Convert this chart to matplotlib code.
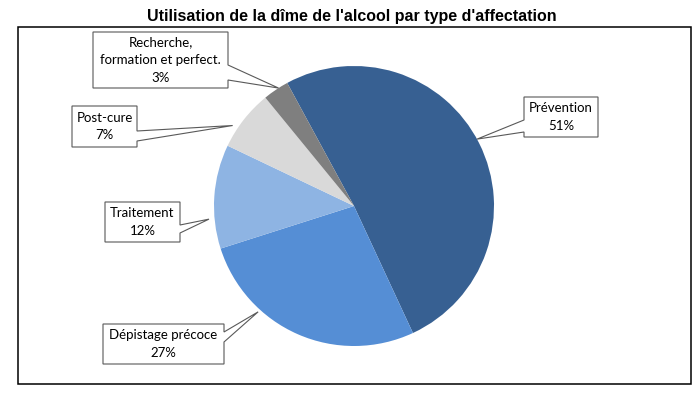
import matplotlib
matplotlib.use("Agg")
import matplotlib.pyplot as plt
from matplotlib.patches import Polygon, Rectangle
import numpy as np

# Data
categories = ["Prévention", "Dépistage précoce", "Traitement", "Post-cure",
              "Recherche,\nformation et perfect."]
shares = [51, 27, 12, 7, 3]
colors = ["#376092", "#558ED5", "#8EB4E3", "#D9D9D9", "#7F7F7F"]
title = "Utilisation de la dîme de l'alcool par type d'affectation"

W, H = 700, 395
START = 118.5

fig = plt.figure(figsize=(W / 100, H / 100), dpi=100)
ax = fig.add_axes([0, 0, 1, 1])


def up(y):
    """Convert a top-down pixel row into the axes' upward y coordinate."""
    return H - y


cx, cy, R = 354, up(206), 140
ax.pie(shares, colors=colors, startangle=START, counterclock=False,
       center=(cx, cy), radius=R, wedgeprops=dict(linewidth=0))
ax.set_xlim(0, W)
ax.set_ylim(0, H)
ax.axis("off")

# Chart frame
ax.add_patch(Rectangle((18, up(384)), 691 - 18, 384 - 27, fill=False,
                       edgecolor="black", linewidth=1.1, zorder=1))

ax.text(352, up(16), title, ha="center", va="center", fontsize=11.5,
        fontweight="bold", family="Liberation Sans")

# Callout layout: box (left, top, right, bottom), side of the pointer,
# pointer base rows, position of the tip inside the slice, tip radius factor
callouts = [
    ((524, 97, 598, 137), "left", (120, 132), 0.49, 1.0),
    ((103, 324, 224, 364), "right", (332, 342), 0.69, 1.02),
    ((105, 202, 180, 242), "right", (225, 233), 0.29, 1.04),
    ((72, 106, 137, 147), "right", (131, 141), 0.32, 1.04),
    ((93, 32, 228, 88), "right", (65, 80), 0.62, 1.0),
]

total = float(sum(shares))
cum = np.concatenate([[0], np.cumsum(shares)[:-1]])
for i, (box, side, (y1, y2), f, rf) in enumerate(callouts):
    ang = np.deg2rad(START - 360 * (cum[i] + f * shares[i]) / total)
    tip = (cx + rf * R * np.cos(ang), cy + rf * R * np.sin(ang))
    l, t, r, b = box
    if side == "right":
        pts = [(l, up(t)), (r, up(t)), (r, up(y1)), tip, (r, up(y2)),
               (r, up(b)), (l, up(b))]
    else:
        pts = [(l, up(t)), (r, up(t)), (r, up(b)), (l, up(b)),
               (l, up(y2)), tip, (l, up(y1))]
    ax.add_patch(Polygon(pts, closed=True, facecolor="white",
                         edgecolor="#595959", linewidth=0.8, zorder=3))
    ax.text((l + r) / 2, up((t + b) / 2),
            f"{categories[i]}\n{shares[i]}%", ha="center", va="center",
            fontsize=9.5, family="Lato", linespacing=1.55, zorder=4)

fig.savefig("out.png", dpi=100)
